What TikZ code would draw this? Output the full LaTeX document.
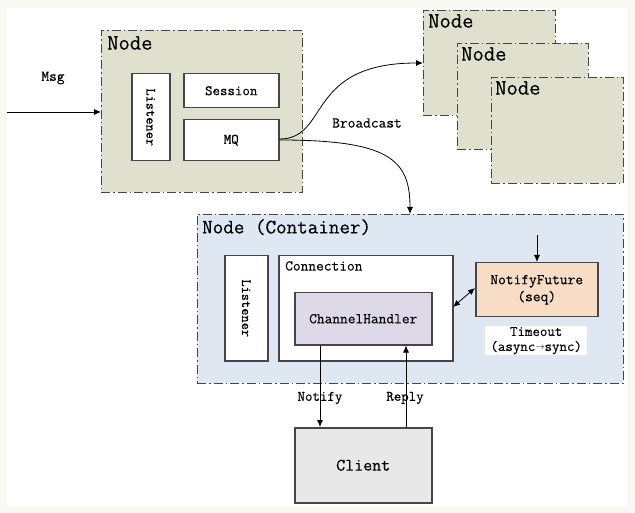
\documentclass[tikz,border=0pt]{standalone}
\usepackage{fontspec}
\setmonofont{Latin Modern Mono}[FakeBold=0.3]
\usetikzlibrary{arrows.meta}
\definecolor{nodefill}{RGB}{223,224,206}
\definecolor{contfill}{RGB}{223,232,242}
\definecolor{peach}{RGB}{248,221,198}
\definecolor{lav}{RGB}{222,217,232}
\definecolor{clientfill}{RGB}{232,232,232}
\definecolor{edge}{RGB}{70,70,70}
\definecolor{outerbg}{RGB}{249,249,244}
\tikzset{
  dashbox/.style={draw=edge, line width=0.9pt, dash pattern=on 9pt off 3pt on 1.5pt off 3pt, inner sep=0pt},
  solidbox/.style={draw=edge, line width=1.5pt, inner sep=0pt},
  big/.style={font=\ttfamily\fontsize{22}{24}\selectfont, inner sep=0pt, anchor=north west},
  txt/.style={font=\ttfamily\fontsize{15}{17}\selectfont, align=center},
  arr/.style={-{Latex[length=7pt,width=6pt]}, line width=0.8pt},
  darr/.style={{Latex[length=7pt,width=6pt]}-{Latex[length=7pt,width=6pt]}, line width=0.8pt},
}
\begin{document}
\begin{tikzpicture}[x=1pt,y=-1pt]
\fill[outerbg] (0,0) rectangle (635,513);
\fill[white] (6,8) rectangle (627,506);
\useasboundingbox (0,0) rectangle (635,513);
% ---- top-left node
\node[dashbox, fill=nodefill, minimum width=201pt, minimum height=162pt, anchor=north west] (n1) at (101,30) {};
\node[big] (n1t) at (107,36) {Node};
\node[solidbox, fill=white, minimum width=38pt, minimum height=87pt, anchor=north west] (lis1) at (131,73) {};
\node[txt, rotate=-90, font=\ttfamily\fontsize{14}{16}\selectfont] (lis1t) at (lis1.center) {Listener};
\node[solidbox, fill=white, minimum width=95pt, minimum height=34pt, anchor=north west, txt, font=\ttfamily\fontsize{14.5}{16}\selectfont] (sess) at (183,73) {Session};
\node[solidbox, fill=white, minimum width=95pt, minimum height=41pt, anchor=north west, txt, font=\ttfamily\fontsize{14.5}{16}\selectfont] (mq) at (183,119) {MQ};
\node[txt] (msg) at (53,78) {Msg};
\coordinate (msgstart) at (7,112);
\draw[arr] (msgstart) -- (n1.west |- msgstart);
% ---- stacked nodes
\node[dashbox, fill=nodefill, minimum width=132pt, minimum height=105pt, anchor=north west] (na) at (423,10) {};
\node[big] (nat) at (428,14) {Node};
\node[dashbox, fill=nodefill, minimum width=131pt, minimum height=106pt, anchor=north west] (nb) at (457,43) {};
\node[big] (nbt) at (461,47) {Node};
\node[dashbox, fill=nodefill, minimum width=132pt, minimum height=106pt, anchor=north west] (nc) at (491,77) {};
\node[big] (nct) at (495,81) {Node};
% ---- container
\node[dashbox, fill=contfill, minimum width=426pt, minimum height=169pt, anchor=north west] (cont) at (197,214) {};
\node[big, font=\ttfamily\fontsize{20.5}{22}\selectfont] (contt) at (202,219) {Node (Container)};
\node[solidbox, fill=white, minimum width=43pt, minimum height=105pt, anchor=north west] (lis2) at (224,255) {};
\node[txt, rotate=-90, font=\ttfamily\fontsize{14}{16}\selectfont] (lis2t) at (lis2.center) {Listener};
\node[solidbox, fill=white, minimum width=174pt, minimum height=105pt, anchor=north west] (conn) at (278,255) {};
\node[txt, anchor=north west, inner sep=0pt] (connt) at (285,261) {Connection};
\node[solidbox, fill=lav, minimum width=137pt, minimum height=52pt, anchor=north west, txt] (ch) at (294,292) {ChannelHandler};
\node[solidbox, fill=peach, minimum width=122pt, minimum height=54pt, anchor=north west, txt] (nf) at (475,262) {NotifyFuture\\(seq)};
\node[fill=white, minimum width=102pt, minimum height=29pt, anchor=north west, inner sep=0pt] (tobox) at (485,326) {};
\node[txt, font=\ttfamily\fontsize{14.5}{15}\selectfont] (tot) at (tobox.center) {Timeout\\(async\raisebox{0.1em}{\fontsize{9}{9}\selectfont$\rightarrow$}sync)};
\coordinate (nfin) at (537,235);
\draw[arr] (nfin) -- (nfin |- nf.north);
\coordinate (dA) at (453,307);
\coordinate (dB) at (475,288);
\draw[darr] (dA) -- (dB);
% ---- client
\node[solidbox, fill=clientfill, minimum width=137pt, minimum height=75pt, anchor=north west, txt, font=\ttfamily\fontsize{17.5}{19}\selectfont] (cl) at (294,427) {Client};
\coordinate (nx) at (320,0);
\coordinate (rx) at (406,0);
\draw[arr] (nx |- ch.south) -- (nx |- cl.north);
\draw[arr] (rx |- cl.north) -- (rx |- ch.south);
\node[txt, font=\ttfamily\fontsize{14.5}{16}\selectfont] (notify) at (320,398) {Notify};
\node[txt, font=\ttfamily\fontsize{14.5}{16}\selectfont] (reply) at (405,398) {Reply};
% ---- curves
\coordinate (cx) at (410,0);
\draw[arr] (mq.east |- 0,139) .. controls (330,139) and (305,63) .. (na.west |- 0,63);
\draw[arr] (mq.east |- 0,140) .. controls (390,140) and (410,160) .. (cx |- cont.north);
\node[txt] (bc) at (367,123) {Broadcast};
\end{tikzpicture}
\end{document}
